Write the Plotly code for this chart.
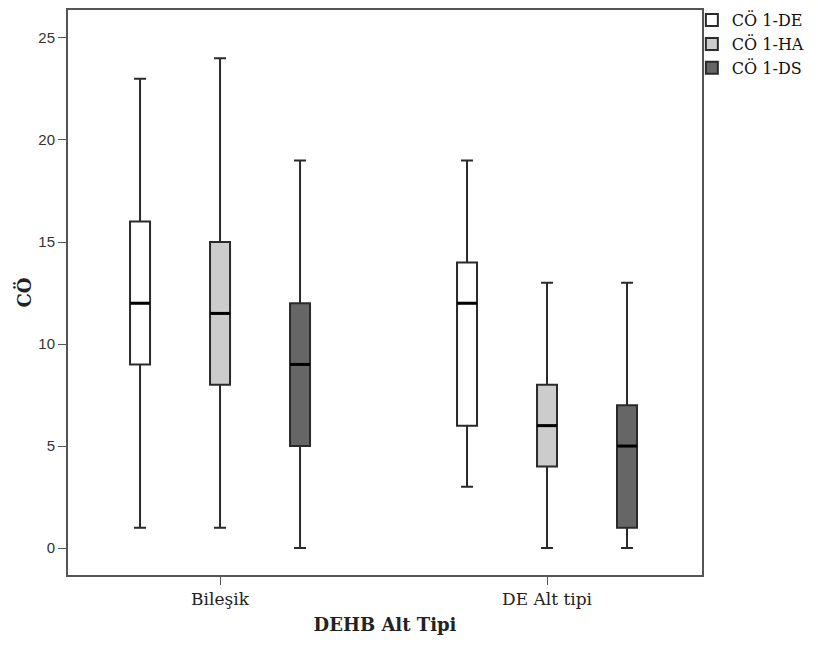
import plotly.graph_objects as go

categories = ["Bileşik", "DE Alt tipi"]
series_names = ["CÖ 1-DE", "CÖ 1-HA", "CÖ 1-DS"]
lower = [[1, 3], [1, 0], [0, 0]]
q1 = [[9, 6], [8, 4], [5, 1]]
median = [[12, 12], [11.5, 6], [9, 5]]
q3 = [[16, 14], [15, 8], [12, 7]]
upper = [[23, 19], [24, 13], [19, 13]]
fills = ["#ffffff", "#cccccc", "#666666"]

BOXGAP = 0.266
BOXGROUPGAP = 0.75

fig = go.Figure()
for i, name in enumerate(series_names):
    fig.add_trace(go.Box(
        name=name, x=categories,
        q1=q1[i], median=median[i], q3=q3[i],
        lowerfence=lower[i], upperfence=upper[i],
        fillcolor=fills[i],
        line=dict(color="#2a2a2a", width=2),
        whiskerwidth=0.6,
        boxpoints=False,
    ))

# thicker median lines (as in the SPSS style)
slot = (1 - BOXGAP) / len(series_names)
half = slot * (1 - BOXGROUPGAP) / 2
for i in range(len(series_names)):
    off = (i - (len(series_names) - 1) / 2) * slot
    for j in range(len(categories)):
        fig.add_shape(type="line", xref="x", yref="y",
                      x0=j + off - half, x1=j + off + half,
                      y0=median[i][j], y1=median[i][j],
                      line=dict(color="#000000", width=3))

fig.update_layout(
    width=818, height=645,
    margin=dict(l=60, r=124, t=2, b=78, autoexpand=False),
    plot_bgcolor="white", paper_bgcolor="white",
    boxmode="group", boxgap=BOXGAP, boxgroupgap=BOXGROUPGAP,
    showlegend=True,
    legend=dict(x=0.984, y=1.012, xanchor="left", yanchor="top",
                font=dict(family="DejaVu Serif", size=16, color="#111111"),
                bgcolor="rgba(0,0,0,0)", tracegroupgap=0, itemwidth=30),
    xaxis=dict(type="category", range=[-0.465, 1.474],
               showline=True, linecolor="#555555", linewidth=2, mirror=True,
               ticks="outside", ticklen=8, tickcolor="#555555",
               tickfont=dict(family="DejaVu Serif", size=17, color="#222222"),
               title=dict(text="<b>DEHB Alt Tipi</b>", standoff=10,
                          font=dict(family="DejaVu Serif", size=18, color="#222222")),
               showgrid=False, zeroline=False),
    yaxis=dict(range=[-1.32, 26.37],
               tickvals=[0, 5, 10, 15, 20, 25],
               showline=True, linecolor="#555555", linewidth=2, mirror=True,
               ticks="outside", ticklen=8, tickcolor="#555555",
               tickfont=dict(family="Liberation Sans", size=15, color="#333333"),
               title=dict(text="<b>CÖ</b>", standoff=2,
                          font=dict(family="DejaVu Serif", size=18, color="#222222")),
               showgrid=False, zeroline=False),
)

fig.write_html("out.html")
